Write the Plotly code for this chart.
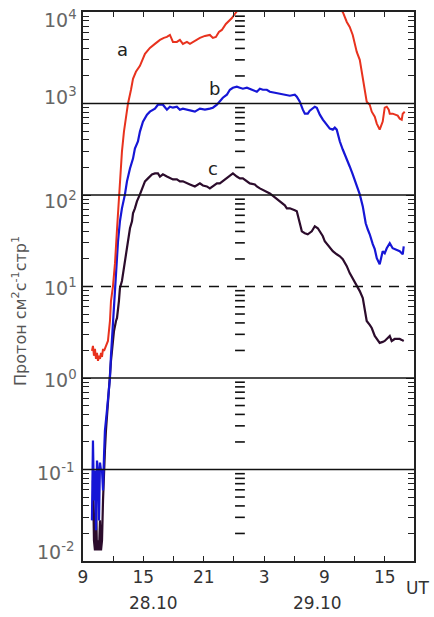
import plotly.graph_objects as go
import math

# ---------------- data (hours since 28.10 00 UT, proton flux) ----------------
RED_T = [9.89, 9.99, 10.09, 10.19, 10.29, 10.39, 10.49, 10.59, 10.69, 10.79, 10.89, 10.99, 11.09,
         11.28, 11.48, 11.68, 11.78, 11.98, 12.18, 12.38, 12.57, 12.77, 12.87, 13.07, 13.27, 13.47,
         13.77, 13.97, 14.26, 14.66, 15.16, 15.65, 16.15, 16.65, 17.04, 17.34, 17.64, 17.94, 18.33,
         18.63, 18.93, 19.33, 19.63, 20.12, 20.62, 21.12, 21.61, 21.91, 22.21, 22.51, 22.80, 23.20,
         23.50, 23.80, 24.09, 24.29, 24.39, None,
         34.63, 34.82, 35.22, 35.51, 35.81, 36.21, 36.51, 36.81, 36.91, 37.20, 37.50, 37.70, 38.00,
         38.20, 38.49, 38.79, 38.99, 39.19, 39.39, 39.49, 39.78, 40.28, 40.48, 40.68, 40.78, 40.98]
RED_V = [1.98, 2.24, 1.75, 2.08, 1.62, 1.88, 1.54, 1.75, 1.62, 1.88, 1.70, 2.08, 1.98,
         2.24, 2.54, 4.20, 6.93, 10.1, 18.0, 42.2, 101, 190, 298, 493, 755, 995,
         1414, 1863, 2221, 2581, 3487, 4053, 4481, 4955, 5210, 5342, 5617, 4713, 4713,
         4955, 4481, 4713, 4481, 4832, 5210, 5477, 5617, 5210, 5342, 6055, 6367, 7402,
         7980, 8602, 9510, 10000, 10514, None,
         10514, 10000, 7782, 6865, 5617, 3667, 3000, 1959, 1728, 1046, 970, 814, 718,
         603, 518, 634, 900, 923, 856, 774, 774, 736, 683, 666, 774, 814]

BLUE_T = [9.89, 9.99, 10.09, 10.19, 10.29, 10.39, 10.49, 10.59, 10.69, 10.79, 10.89, 10.99, 11.09,
          11.18, 11.38, 11.48, 11.58, 11.68, 11.78, 11.98, 12.08, 12.28, 12.48, 12.67, 12.87, 13.17,
          13.37, 13.67, 13.97, 14.16, 14.46, 14.66, 14.96, 15.36, 15.65, 16.15, 16.45, 16.94, 17.34,
          17.64, 17.94, 18.33, 18.63, 18.93, 19.33, 19.63, 20.12, 20.62, 21.12, 21.61, 21.91, 22.31,
          22.60, 22.90, 23.30, 23.60, 23.90, 24.29, 24.59, 24.89, 25.29, 25.58, 26.08, 26.28, 26.58,
          26.88, 27.27, 27.57, 28.07, 28.56, 29.06, 29.56, 30.05, 30.25, 30.55, 30.75, 30.85, 31.05,
          31.34, 31.54, 31.84, 32.04, 32.24, 32.54, 32.84, 33.23, 33.53, 33.83, 34.03, 34.22, 34.53,
          34.82, 35.22, 35.51, 35.81, 36.21, 36.51, 36.81, 37.10, 37.30, 37.50, 37.80, 38.00, 38.20,
          38.49, 38.79, 38.99, 39.19, 39.49, 39.78, 40.18, 40.48, 40.78, 40.88]
BLUE_V = [0.0278, 0.207, 0.046, 0.0975, 0.0217, 0.125, 0.0975, 0.0278, 0.119, 0.0975, 0.0975, 0.0591, 0.142,
          0.266, 0.439, 0.564, 0.82, 1.0, 1.75, 4.2, 7.5, 15.5, 31.2, 51.6, 71.5, 101.5,
          141, 195, 250, 322, 384, 493, 634, 755, 814, 878, 970, 970, 856,
          923, 900, 923, 856, 878, 856, 856, 814, 878, 856, 878, 900, 970,
          1046, 1157, 1247, 1414, 1486, 1524, 1486, 1450, 1486, 1450, 1379, 1345, 1450,
          1414, 1414, 1345, 1312, 1279, 1247, 1216, 1247, 1186, 1046, 900, 856, 774,
          774, 835, 878, 923, 900, 755, 666, 588, 531, 518, 545, 518, 384,
          314, 250, 205, 168, 124, 101.5, 75.1, 49.1, 42.2, 37.2, 29.0, 25.6, 20.4,
          17.5, 24.3, 23.1, 26.2, 29.7, 26.2, 24.9, 24.3, 22.5, 27.5]

PURP_T = [9.99, 10.09, 10.19, 10.29, 10.39, 10.49, 10.59, 10.69, 10.79, 10.89, 10.99, 11.09, 11.18,
          11.28, 11.48, 11.68, 11.78, 11.98, 12.08, 12.28, 12.38, 12.57, 12.67, 12.87, 12.97, 13.17,
          13.37, 13.47, 13.67, 13.87, 13.97, 14.16, 14.36, 14.66, 14.96, 15.16, 15.46, 15.65, 15.85,
          16.15, 16.45, 16.65, 16.94, 17.34, 17.64, 17.94, 18.33, 18.63, 18.93, 19.33, 19.63, 20.12,
          20.62, 20.92, 21.31, 21.61, 21.91, 22.31, 22.60, 23.10, 23.60, 23.90, 24.29, 24.59, 24.89,
          25.29, 25.58, 26.08, 26.28, 26.58, 27.08, 27.57, 28.07, 28.56, 29.06, 29.26, 29.56, 30.05,
          30.25, 30.55, 30.75, 31.05, 31.34, 31.74, 32.04, 32.34, 32.54, 32.84, 33.03, 33.53, 33.83,
          34.22, 34.53, 34.82, 35.22, 35.51, 35.81, 36.21, 36.51, 36.81, 37.00, 37.20, 37.50, 37.70,
          38.00, 38.30, 38.49, 38.79, 38.99, 39.29, 39.49, 39.68, 39.98, 40.28, 40.48, 40.68, 40.88]
PURP_V = [0.0759, 0.0168, 0.0131, 0.046, 0.0131, 0.0168, 0.0131, 0.0278, 0.0131, 0.0168, 0.046, 0.125, 0.161,
          0.266, 0.564, 1.0, 1.54, 2.54, 3.27, 4.20, 4.53, 6.93, 9.61, 11.5, 13.6, 18.9,
          26.2, 31.2, 43.3, 51.6, 63.0, 71.5, 85.2, 101.5, 121, 141, 152, 159, 168,
          172, 172, 159, 168, 159, 152, 148, 148, 141, 141, 134, 130.5, 124,
          134, 127, 124, 118, 124, 134, 134, 148, 163, 172, 159, 152, 152,
          141, 134, 130.5, 124, 118, 109.5, 104, 94.2, 85.2, 77.1, 71.5, 71.5, 68.0,
          66.3, 49.1, 40.1, 38.2, 37.2, 40.1, 45.5, 43.3, 40.1, 35.4, 31.2, 26.9, 24.3,
          22.5, 21.4, 19.9, 16.7, 14.0, 12.35, 10.1, 8.91, 7.47, 5.40, 4.20, 3.80, 3.52,
          2.88, 2.54, 2.42, 2.48, 2.54, 2.74, 2.88, 2.54, 2.67, 2.67, 2.67, 2.61, 2.54]

assert len(RED_T) == len(RED_V)
assert len(BLUE_T) == len(BLUE_V)
assert len(PURP_T) == len(PURP_V)

X_TICKVALS = [9, 15, 21, 27, 33, 39]
X_TICKTEXT = ["9", "15", "21", "3", "9", "15"]
EXPONENTS = [4, 3, 2, 1, 0, -1, -2]
REF_LEVELS = [1e3, 1e2, 1e1, 1e0, 1e-1]
REF_DASH = ["solid", "solid", "dash", "solid", "solid"]
MID_COL_T = 24.6
CURVE_LABELS = [("a", 12.97, 3855), ("b", 22.11, 1450), ("c", 21.91, 195)]
DATE_LABELS = [("28.10", 16.0), ("29.10", 32.3)]

RED = "#e8321e"
BLUE = "#1616d6"
PURPLE = "#2c0c2c"

minor_vals = [m * 10 ** k for k in range(-2, 4) for m in range(2, 10)]

fig = go.Figure()
fig.add_trace(go.Scatter(x=PURP_T, y=PURP_V, mode="lines", line=dict(color=PURPLE, width=2.2),
                         showlegend=False, hoverinfo="skip"))
fig.add_trace(go.Scatter(x=BLUE_T, y=BLUE_V, mode="lines", line=dict(color=BLUE, width=2.2),
                         showlegend=False, hoverinfo="skip"))
fig.add_trace(go.Scatter(x=RED_T, y=RED_V, mode="lines", line=dict(color=RED, width=2),
                         connectgaps=False, showlegend=False, hoverinfo="skip"))
# column of tick marks at the day boundary
fig.add_trace(go.Scatter(x=[MID_COL_T] * len(minor_vals), y=minor_vals, mode="markers",
                         marker=dict(symbol="line-ew", size=7, line=dict(color="#111", width=1.6)),
                         showlegend=False, hoverinfo="skip"))

for lvl, d in zip(REF_LEVELS, REF_DASH):
    fig.add_hline(y=lvl, line=dict(color="#111", width=1.4, dash="10px,8px" if d == "dash" else "solid"))

fig.update_xaxes(range=[9, 41.9], tickvals=X_TICKVALS, ticktext=X_TICKTEXT, ticks="inside",
                 ticklen=5, tickwidth=1.4, tickcolor="#222", showline=True, linecolor="#222",
                 linewidth=2, mirror="allticks", showgrid=False, zeroline=False,
                 minor=dict(ticks="inside", dtick=3, tick0=9, ticklen=5, tickwidth=1.4, tickcolor="#222"),
                 tickfont=dict(family="DejaVu Sans", size=17, color="#333"))
fig.update_yaxes(type="log", range=[-2, 4], tickvals=[10 ** e for e in EXPONENTS], showticklabels=False,
                 ticks="inside", ticklen=8, tickwidth=1.4, tickcolor="#222", showline=True,
                 linecolor="#222", linewidth=2, mirror="allticks", showgrid=False, zeroline=False,
                 minor=dict(ticks="inside", tickvals=minor_vals, ticklen=6, tickwidth=1.4, tickcolor="#222"))

ann = []
yshifts = {4: -7, 3: 8, 2: -5, 1: 0, 0: -1, -1: -2, -2: 10}
for e in EXPONENTS:
    xpx = 42 if e >= 0 else 35
    ann.append(dict(x=(xpx - 83) / 331, xref="paper", y=e, yref="y", xanchor="left", yanchor="middle",
                    text="10<sup>%d</sup>" % e, showarrow=False, yshift=yshifts[e],
                    font=dict(family="DejaVu Sans", size=19, color="#666")))
for t, tx, vy in CURVE_LABELS:
    ann.append(dict(x=tx, y=math.log10(vy), text=t, showarrow=False, xanchor="center", yanchor="middle",
                    font=dict(family="DejaVu Sans", size=18, color="#222")))
for t, tx in DATE_LABELS:
    ann.append(dict(x=tx, y=-0.076, xref="x", yref="paper", text=t, showarrow=False,
                    xanchor="center", yanchor="middle",
                    font=dict(family="DejaVu Sans", size=17, color="#333")))
ann.append(dict(x=(418 - 83) / 331, y=-0.05, xref="paper", yref="paper", text="UT", showarrow=False,
                xanchor="center", yanchor="middle",
                font=dict(family="DejaVu Sans", size=17, color="#333")))
ann.append(dict(x=(20 - 83) / 331, y=(561 - 310) / 551, xref="paper", yref="paper", textangle=-90,
                text="Протон см<sup>2</sup>с<sup>-1</sup>стр<sup>1</sup>", showarrow=False,
                xanchor="center", yanchor="middle",
                font=dict(family="DejaVu Sans", size=16, color="#555")))

fig.update_layout(width=434, height=617, margin=dict(l=83, r=20, t=10, b=56),
                  plot_bgcolor="white", paper_bgcolor="white", annotations=ann)

fig.write_html("out.html")
